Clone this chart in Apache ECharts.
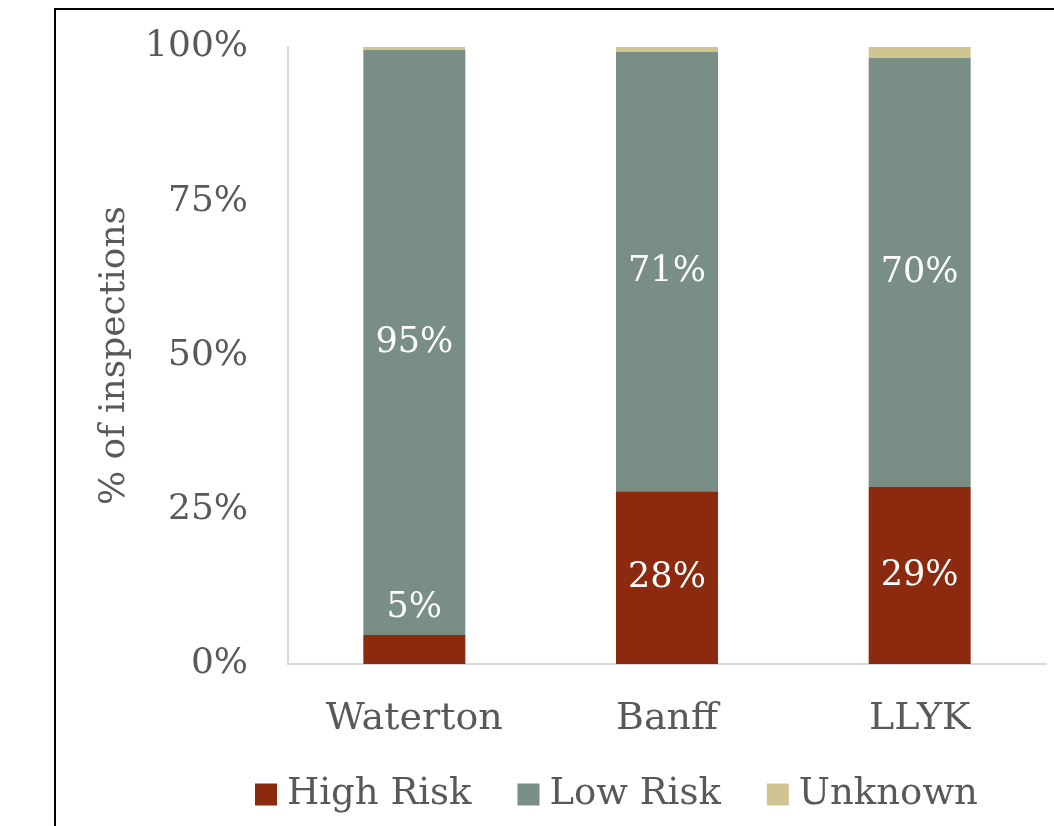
<!DOCTYPE html>
<html>
<head>
<meta charset="utf-8">
<title>Inspections by risk</title>
<script src="https://cdn.jsdelivr.net/npm/echarts@6/dist/echarts.min.js"></script>
<style>
  html, body { margin: 0; padding: 0; background: #fff; overflow: hidden; }
  #chart { position: absolute; left: 0; top: 0; width: 1054px; height: 826px; }
  /* frame around the chart, cut off at the right and bottom like the source */
  .frame {
    position: absolute; left: 54px; top: 8px; width: 1100px; height: 900px;
    border: 2px solid #000; pointer-events: none;
  }
</style>
</head>
<body>
<div id="chart"></div>
<div class="frame"></div>
<script>
// data (% of inspections)
const parks = ['Waterton', 'Banff', 'LLYK']
const highRisk = [4.7, 28.0, 28.7]
const lowRisk = [94.8, 71.2, 69.5]
const unknown = [0.5, 0.8, 1.8]
const yTicks = [0, 25, 50, 75, 100]

const FONT = 'DejaVu Serif'
const GREY = '#595959'
const COLORS = { high: '#8B2A0E', low: '#798E84', unknown: '#CEC591' }

const pct = p => Math.round(p.value) + '%'

const chart = echarts.init(document.getElementById('chart'))

chart.setOption({
  animation: false,
  textStyle: { fontFamily: FONT },
  grid: { left: 288, right: 8, top: 47, bottom: 162 },
  legend: {
    top: 771,
    left: 250,
    icon: 'rect',
    itemWidth: 22,
    itemHeight: 22,
    itemGap: 46,
    textStyle: { fontFamily: FONT, fontSize: 37, color: GREY, padding: [0, 0, 0, 5] }
  },
  xAxis: {
    type: 'category',
    data: parks,
    axisTick: { show: false },
    axisLine: { lineStyle: { color: '#d9d9d9', width: 2 } },
    axisLabel: { margin: 36, fontSize: 38, color: GREY, fontFamily: FONT }
  },
  yAxis: {
    type: 'value',
    min: yTicks[0],
    max: yTicks[yTicks.length - 1],
    interval: yTicks[1] - yTicks[0],
    name: '% of inspections',
    nameLocation: 'middle',
    nameGap: 155,
    nameTextStyle: { fontSize: 36, color: GREY, fontFamily: FONT },
    axisLine: { show: true, lineStyle: { color: '#d9d9d9', width: 2 } },
    axisTick: { show: false },
    splitLine: { show: false },
    axisLabel: { margin: 40, fontSize: 36, color: GREY, fontFamily: FONT, formatter: '{value}%' }
  },
  series: [
    {
      name: 'High Risk',
      type: 'bar',
      stack: 'total',
      barWidth: 102,
      itemStyle: { color: COLORS.high },
      label: { show: true, position: 'inside', color: '#fff', fontSize: 35, fontFamily: FONT, formatter: pct },
      // Waterton's slice is too thin, so its label is pulled up with a leader line
      labelLayout: p => p.dataIndex === 0 ? { dy: -42 } : {},
      labelLine: { show: true, lineStyle: { color: '#a6a6a6', width: 1.5 } },
      data: highRisk
    },
    {
      name: 'Low Risk',
      type: 'bar',
      stack: 'total',
      barWidth: 102,
      itemStyle: { color: COLORS.low },
      label: { show: true, position: 'inside', color: '#fff', fontSize: 35, fontFamily: FONT, formatter: pct },
      data: lowRisk
    },
    {
      name: 'Unknown',
      type: 'bar',
      stack: 'total',
      barWidth: 102,
      itemStyle: { color: COLORS.unknown },
      data: unknown
    }
  ]
})
</script>
</body>
</html>
